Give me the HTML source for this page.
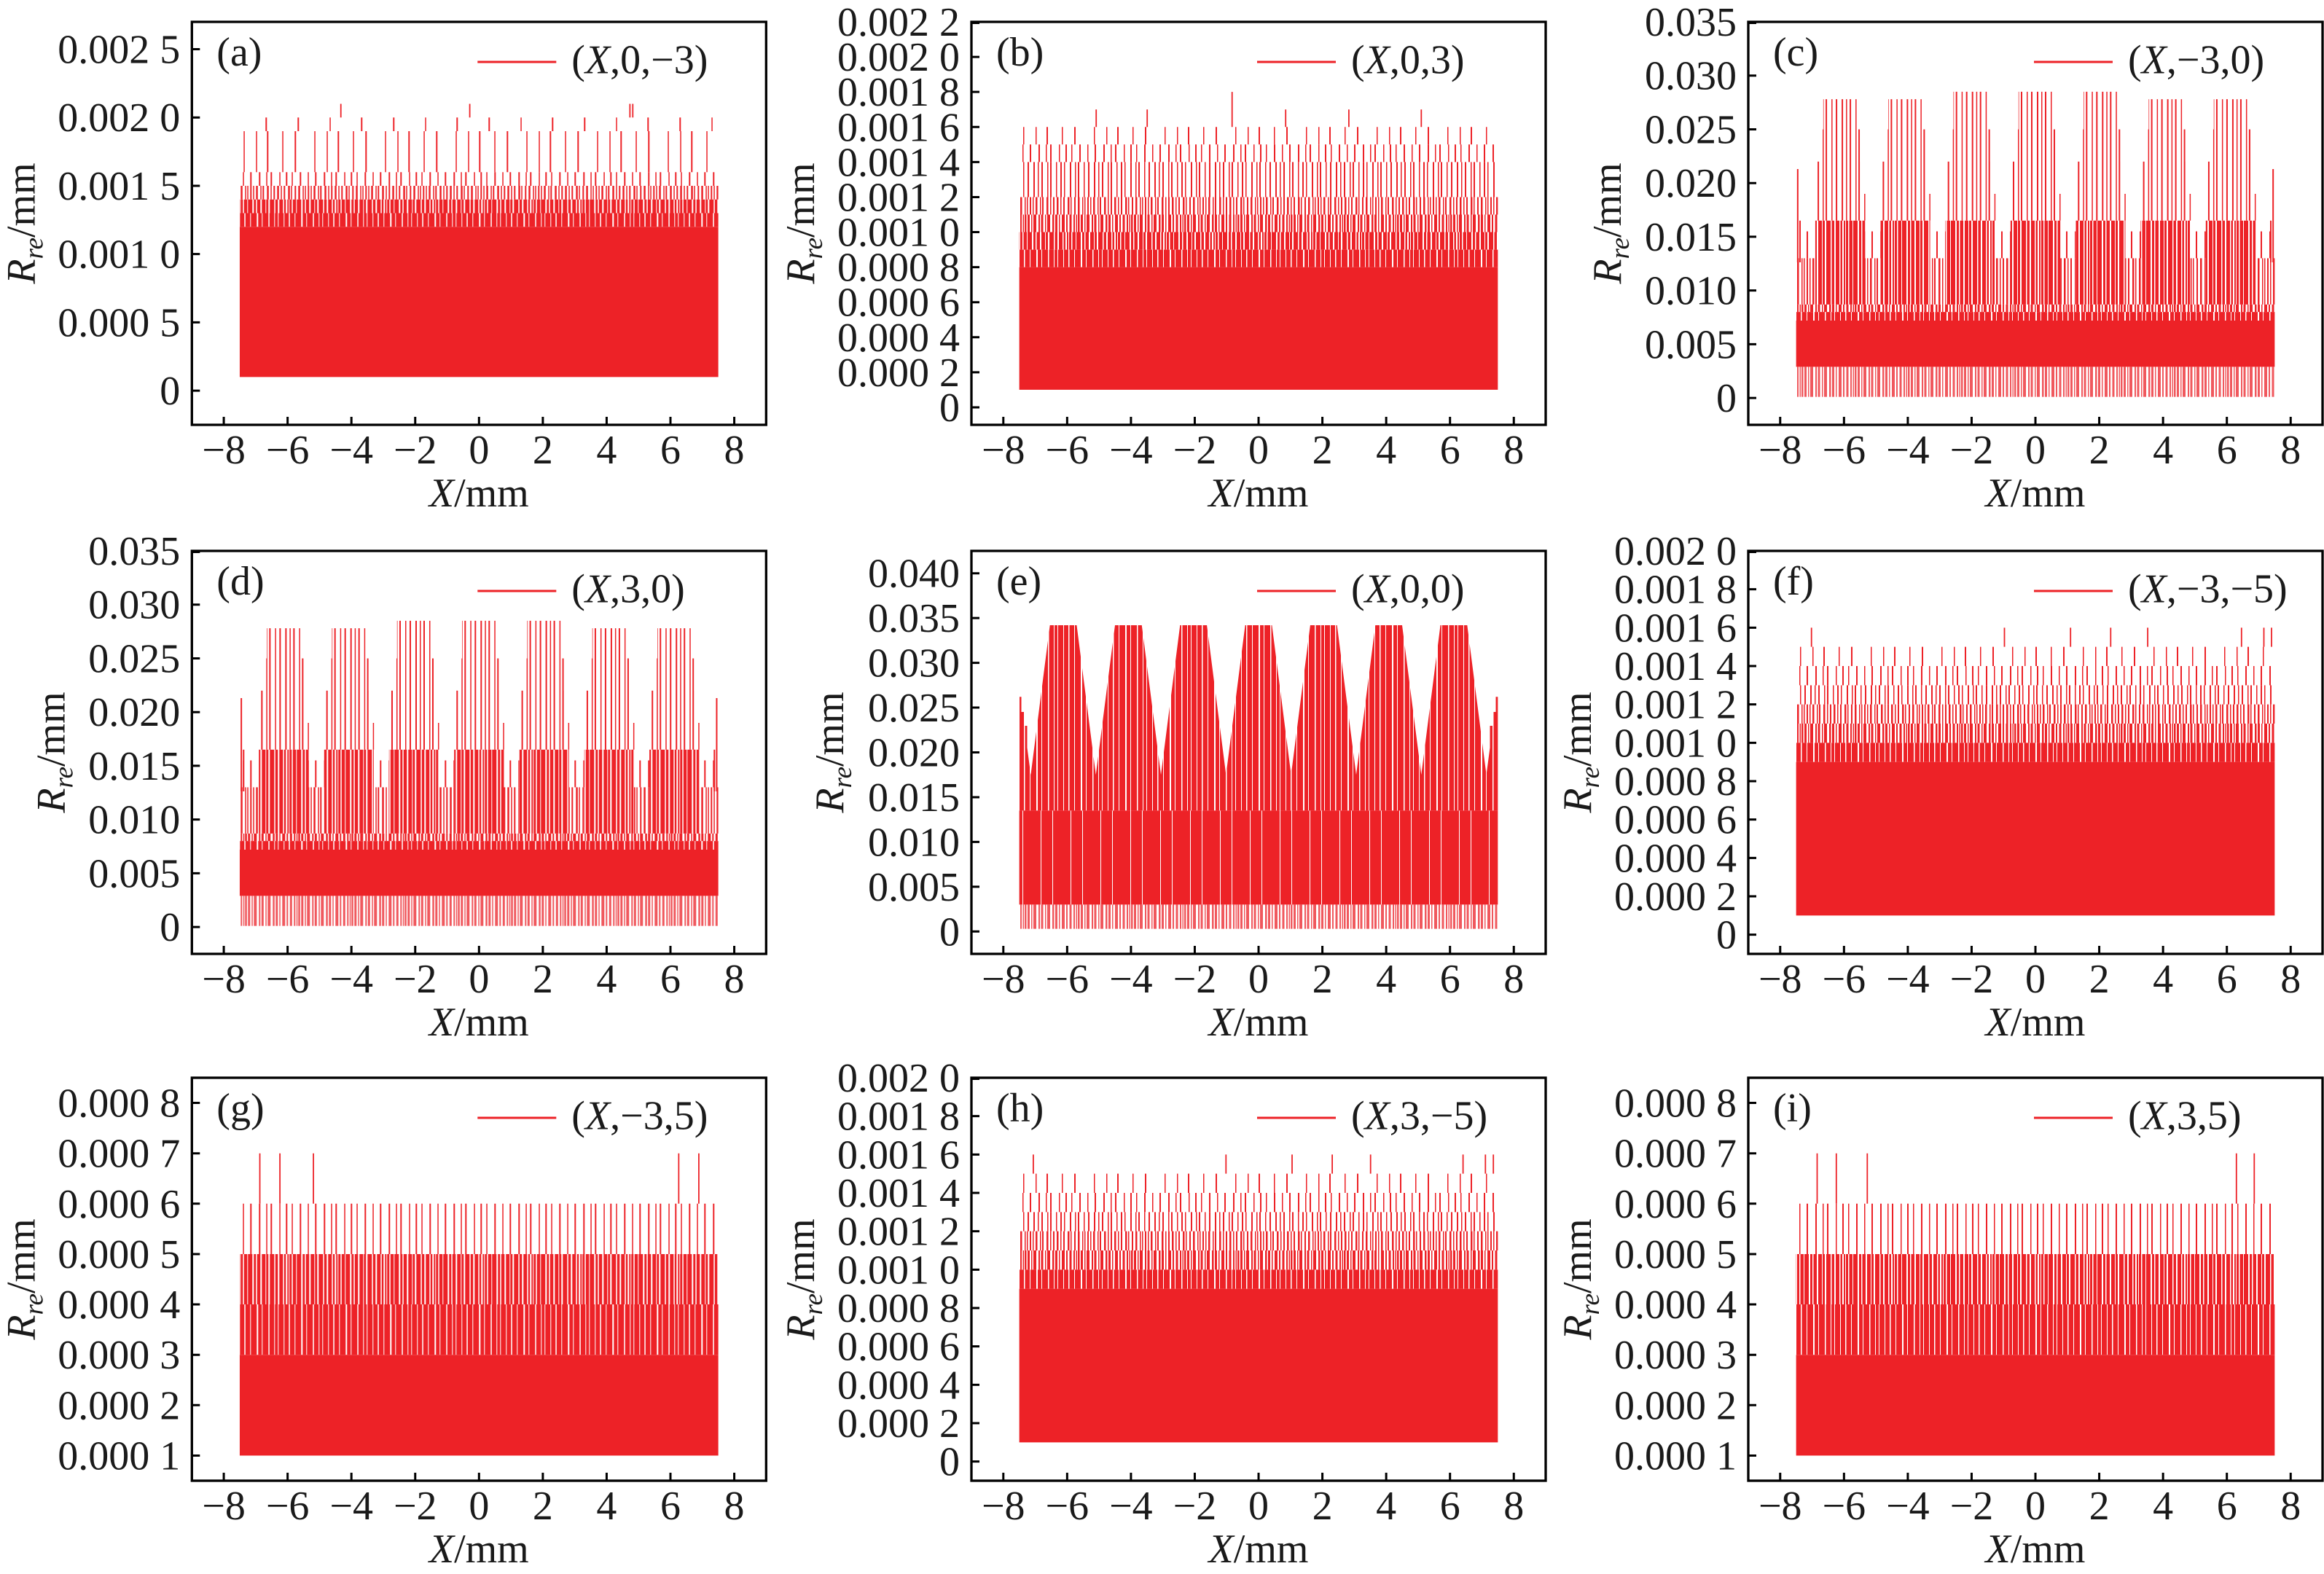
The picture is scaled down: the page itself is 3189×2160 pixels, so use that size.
<!DOCTYPE html>
<html><head><meta charset="utf-8"><title>R_re vs X</title>
<style>
html,body{margin:0;padding:0;background:#fff;}
svg{display:block;}
text{font-family:"Liberation Serif","DejaVu Serif",serif;font-size:56px;fill:#1a1a1a;}
</style></head>
<body>
<svg xmlns="http://www.w3.org/2000/svg" width="3189" height="2160" viewBox="0 0 3189 2160">
<defs>
<pattern id="p95" width="41" height="10" patternUnits="userSpaceOnUse"><path fill="#ed2227" d="M0 0h13v10h-13zM14 0h15v10h-15zM30 0h11v10h-11z"/></pattern>
<pattern id="p90" width="61" height="10" patternUnits="userSpaceOnUse"><path fill="#ed2227" d="M0 0h4v10h-4zM5 0h6v10h-6zM12.5 0h6.5v10h-6.5zM20 0h8v10h-8zM30 0h5v10h-5zM36 0h8v10h-8zM45.5 0h6.5v10h-6.5zM53 0h4v10h-4zM58 0h3v10h-3z"/></pattern>
<pattern id="p75" width="67" height="10" patternUnits="userSpaceOnUse"><path fill="#ed2227" d="M0 0h3v10h-3zM4.5 0h4.5v10h-4.5zM10 0h6v10h-6zM18 0h3v10h-3zM22.5 0h4.5v10h-4.5zM29 0h5v10h-5zM35 0h3v10h-3zM40 0h6v10h-6zM47.5 0h3.5v10h-3.5zM53 0h5v10h-5zM59.5 0h2.5v10h-2.5zM64 0h2v10h-2z"/></pattern>
<pattern id="p60" width="73" height="10" patternUnits="userSpaceOnUse"><path fill="#ed2227" d="M0 0h2.5v10h-2.5zM4 0h3v10h-3zM9 0h1.5v10h-1.5zM12 0h4v10h-4zM19 0h2v10h-2zM22.5 0h3v10h-3zM28 0h1.5v10h-1.5zM31 0h4v10h-4zM38 0h2.5v10h-2.5zM42 0h3v10h-3zM47 0h1.5v10h-1.5zM51 0h4v10h-4zM57 0h2v10h-2zM61.5 0h3v10h-3zM67 0h2v10h-2zM70.5 0h1.5v10h-1.5z"/></pattern>
<pattern id="pl" width="73" height="10" patternUnits="userSpaceOnUse"><path fill="#f0585d" d="M0 0h2.5v10h-2.5zM4 0h3v10h-3zM9 0h1.5v10h-1.5zM12 0h4v10h-4zM19 0h2v10h-2zM22.5 0h3v10h-3zM28 0h1.5v10h-1.5zM31 0h4v10h-4zM38 0h2.5v10h-2.5zM42 0h3v10h-3zM47 0h1.5v10h-1.5zM51 0h4v10h-4zM57 0h2v10h-2zM61.5 0h3v10h-3zM67 0h2v10h-2zM70.5 0h1.5v10h-1.5z"/></pattern>
<pattern id="p45" width="79" height="10" patternUnits="userSpaceOnUse"><path fill="#ed2227" d="M1 0h2v10h-2zM5 0h1.5v10h-1.5zM9 0h2.5v10h-2.5zM15 0h1.5v10h-1.5zM18 0h2v10h-2zM24 0h2.5v10h-2.5zM29 0h1.5v10h-1.5zM33 0h2v10h-2zM38 0h2.5v10h-2.5zM43 0h1.5v10h-1.5zM47 0h2v10h-2zM53 0h2.5v10h-2.5zM57 0h1.5v10h-1.5zM62 0h2v10h-2zM67 0h2.5v10h-2.5zM73 0h1.5v10h-1.5zM76 0h1.5v10h-1.5z"/></pattern>
<pattern id="p30" width="83" height="10" patternUnits="userSpaceOnUse"><path fill="#ed2227" d="M2 0h2v10h-2zM8 0h1.5v10h-1.5zM13 0h2v10h-2zM21 0h1.5v10h-1.5zM25 0h2v10h-2zM33 0h1.5v10h-1.5zM39 0h2v10h-2zM44 0h1.5v10h-1.5zM52 0h2v10h-2zM59 0h1.5v10h-1.5zM63 0h2v10h-2zM71 0h1.5v10h-1.5zM77 0h2v10h-2z"/></pattern>
<pattern id="p20" width="89" height="10" patternUnits="userSpaceOnUse"><path fill="#ed2227" d="M3 0h2v10h-2zM13 0h1.5v10h-1.5zM19 0h2v10h-2zM31 0h1.5v10h-1.5zM40 0h2v10h-2zM48 0h1.5v10h-1.5zM59 0h2v10h-2zM70 0h1.5v10h-1.5zM80 0h2v10h-2z"/></pattern>
<pattern id="p10" width="97" height="10" patternUnits="userSpaceOnUse"><path fill="#ed2227" d="M6 0h2v10h-2zM27 0h1.5v10h-1.5zM44 0h2v10h-2zM71 0h1.5v10h-1.5zM88 0h1.5v10h-1.5z"/></pattern>
<pattern id="p05" width="131" height="10" patternUnits="userSpaceOnUse"><path fill="#ed2227" d="M14 0h2v10h-2zM58 0h1.5v10h-1.5zM101 0h2v10h-2z"/></pattern>
</defs>
<rect width="3189" height="2160" fill="#fff"/>

<!-- ===== (a) ===== -->
<g transform="translate(263.3,30)">
<path fill="#ed2227" d="M65.65 281.19H722.35V487.39H65.65Z"/>
<path fill="url(#p90)" d="M65.65 262.45H722.35V281.19H65.65Z"/>
<path fill="url(#p75)" d="M65.65 243.7H722.35V262.45H65.65Z"/>
<path fill="url(#p45)" d="M65.65 224.95H722.35V243.7H65.65Z"/>
<path fill="url(#p20)" d="M65.65 206.21H722.35V224.95H65.65Z"/>
<path fill="url(#p10)" d="M65.65 149.97H722.35V206.21H65.65Z"/>
<path fill="url(#p05)" d="M65.65 131.22H722.35V149.97H65.65Z"/>
<path stroke="#ed2227" stroke-width="1.8" d="M204.43 131.22V112.48M381.3 131.22V112.48M601.08 131.22V112.48M605.02 131.22V112.48"/>
<rect width="788" height="553" fill="none" stroke="#000" stroke-width="3.3"/>
<path stroke="#000" stroke-width="3" d="M43.78 553V542M131.34 553V542M218.9 553V542M306.46 553V542M394.02 553V542M481.58 553V542M569.14 553V542M656.7 553V542M744.26 553V542M0 506.14H11M0 412.41H11M0 318.68H11M0 224.95H11M0 131.22H11M0 37.49H11"/>
<text y="606" text-anchor="middle"><tspan x="43.78">−8</tspan><tspan x="131.34">−6</tspan><tspan x="218.9">−4</tspan><tspan x="306.46">−2</tspan><tspan x="394.02">0</tspan><tspan x="481.58">2</tspan><tspan x="569.14">4</tspan><tspan x="656.7">6</tspan><tspan x="744.26">8</tspan></text>
<text text-anchor="end"><tspan x="-16" y="525.14">0</tspan><tspan x="-16" y="431.41">0.000 5</tspan><tspan x="-16" y="337.68">0.001 0</tspan><tspan x="-16" y="243.95">0.001 5</tspan><tspan x="-16" y="150.22">0.002 0</tspan><tspan x="-16" y="56.49">0.002 5</tspan></text>
<text x="394" y="665" text-anchor="middle"><tspan font-style="italic">X</tspan>/mm</text>
<text transform="translate(-216 276.5) rotate(-90)" text-anchor="middle"><tspan font-style="italic">R</tspan><tspan font-style="italic" font-size="37" dy="11">re</tspan><tspan dy="-11">/mm</tspan></text>
<text x="34" y="60">(a)</text>
<path d="M392 55H500" stroke="#ed2227" stroke-width="3"/>
<text x="521" y="70.5">(<tspan font-style="italic">X</tspan>,0,−3)</text>
</g>

<!-- ===== (b) ===== -->
<g transform="translate(1333,30)">
<path fill="#ed2227" d="M65.65 336.61H722.35V504.92H65.65Z"/>
<path fill="url(#p90)" d="M65.65 312.57H722.35V336.61H65.65Z"/>
<path fill="url(#p75)" d="M65.65 288.53H722.35V312.57H65.65Z"/>
<path fill="url(#p60)" d="M65.65 264.48H722.35V288.53H65.65Z"/>
<path fill="url(#p45)" d="M65.65 240.44H722.35V264.48H65.65Z"/>
<path fill="url(#p30)" d="M65.65 192.35H722.35V240.44H65.65Z"/>
<path fill="url(#p20)" d="M65.65 168.31H722.35V192.35H65.65Z"/>
<path fill="url(#p10)" d="M65.65 144.26H722.35V168.31H65.65Z"/>
<path stroke="#ed2227" stroke-width="1.8" d="M171.2 144.26V120.22M241.2 144.26V120.22M431.2 144.26V120.22M517.9 144.26V120.22M617.3 144.26V120.22M357.7 144.26V96.18"/>
<rect width="788" height="553" fill="none" stroke="#000" stroke-width="3.3"/>
<path stroke="#000" stroke-width="3" d="M43.78 553V542M131.34 553V542M218.9 553V542M306.46 553V542M394.02 553V542M481.58 553V542M569.14 553V542M656.7 553V542M744.26 553V542M0 528.96H11M0 480.87H11M0 432.79H11M0 384.7H11M0 336.61H11M0 288.53H11M0 240.44H11M0 192.35H11M0 144.27H11M0 96.18H11M0 48.09H11M0 1.5H11"/>
<text y="606" text-anchor="middle"><tspan x="43.78">−8</tspan><tspan x="131.34">−6</tspan><tspan x="218.9">−4</tspan><tspan x="306.46">−2</tspan><tspan x="394.02">0</tspan><tspan x="481.58">2</tspan><tspan x="569.14">4</tspan><tspan x="656.7">6</tspan><tspan x="744.26">8</tspan></text>
<text text-anchor="end"><tspan x="-16" y="547.96">0</tspan><tspan x="-16" y="499.87">0.000 2</tspan><tspan x="-16" y="451.79">0.000 4</tspan><tspan x="-16" y="403.7">0.000 6</tspan><tspan x="-16" y="355.61">0.000 8</tspan><tspan x="-16" y="307.53">0.001 0</tspan><tspan x="-16" y="259.44">0.001 2</tspan><tspan x="-16" y="211.35">0.001 4</tspan><tspan x="-16" y="163.27">0.001 6</tspan><tspan x="-16" y="115.18">0.001 8</tspan><tspan x="-16" y="67.09">0.002 0</tspan><tspan x="-16" y="19">0.002 2</tspan></text>
<text x="394" y="665" text-anchor="middle"><tspan font-style="italic">X</tspan>/mm</text>
<text transform="translate(-216 276.5) rotate(-90)" text-anchor="middle"><tspan font-style="italic">R</tspan><tspan font-style="italic" font-size="37" dy="11">re</tspan><tspan dy="-11">/mm</tspan></text>
<text x="34" y="60">(b)</text>
<path d="M392 55H500" stroke="#ed2227" stroke-width="3"/>
<text x="521" y="70.5">(<tspan font-style="italic">X</tspan>,0,3)</text>
</g>

<!-- ===== (c) ===== -->
<g transform="translate(2399,30)">
<path fill="url(#pl)" d="M65.65 473.36H722.35V514.66H65.65Z"/>
<path fill="#ed2227" d="M65.65 409.95H722.35V473.36H65.65Z"/>
<path fill="url(#p90)" d="M65.65 398.16H722.35V409.95H65.65Z"/>
<path fill="url(#p60)" d="M65.65 387.83H722.35V398.16H65.65Z"/>
<path fill="url(#p75)" d="M91.92 272.81H160.22V387.83H91.92ZM181.23 272.81H249.53V387.83H181.23ZM270.54 272.81H338.84V387.83H270.54ZM359.85 272.81H428.15V387.83H359.85ZM449.16 272.81H517.46V387.83H449.16ZM538.47 272.81H606.77V387.83H538.47ZM627.78 272.81H696.08V387.83H627.78Z"/>
<path fill="url(#p45)" d="M65.65 324.42H91.92V387.83H65.65ZM160.22 324.42H181.23V387.83H160.22ZM249.53 324.42H270.54V387.83H249.53ZM338.84 324.42H359.85V387.83H338.84ZM428.15 324.42H449.16V387.83H428.15ZM517.46 324.42H538.47V387.83H517.46ZM606.77 324.42H627.78V387.83H606.77ZM696.08 324.42H722.35V387.83H696.08Z"/>
<path fill="url(#p20)" d="M65.65 287.56H91.92V324.42H65.65ZM160.22 287.56H181.23V324.42H160.22ZM249.53 287.56H270.54V324.42H249.53ZM338.84 287.56H359.85V324.42H338.84ZM428.15 287.56H449.16V324.42H428.15ZM517.46 287.56H538.47V324.42H517.46ZM606.77 287.56H627.78V324.42H606.77ZM696.08 287.56H722.35V324.42H696.08Z"/>
<path fill="url(#p30)" transform="translate(126.07 0)" d="M-36.78 272.81V235.94H-31.96V191.7H-27.14V147.46H-23.2V106.17H23.2V147.46H27.14V191.7H31.96V235.94H36.78V272.81Z"/>
<path fill="url(#p30)" transform="translate(215.38 0)" d="M-36.78 272.81V235.94H-31.96V191.7H-27.14V147.46H-23.2V106.17H23.2V147.46H27.14V191.7H31.96V235.94H36.78V272.81Z"/>
<path fill="url(#p30)" transform="translate(304.69 0)" d="M-36.78 272.81V235.94H-31.96V191.7H-27.14V147.46H-23.2V95.85H23.2V147.46H27.14V191.7H31.96V235.94H36.78V272.81Z"/>
<path fill="url(#p30)" transform="translate(394 0)" d="M-36.78 272.81V235.94H-31.96V191.7H-27.14V147.46H-23.2V95.85H23.2V147.46H27.14V191.7H31.96V235.94H36.78V272.81Z"/>
<path fill="url(#p30)" transform="translate(483.31 0)" d="M-36.78 272.81V235.94H-31.96V191.7H-27.14V147.46H-23.2V95.85H23.2V147.46H27.14V191.7H31.96V235.94H36.78V272.81Z"/>
<path fill="url(#p30)" transform="translate(572.62 0)" d="M-36.78 272.81V235.94H-31.96V191.7H-27.14V147.46H-23.2V106.17H23.2V147.46H27.14V191.7H31.96V235.94H36.78V272.81Z"/>
<path fill="url(#p30)" transform="translate(661.93 0)" d="M-36.78 272.81V235.94H-31.96V191.7H-27.14V147.46H-23.2V106.17H23.2V147.46H27.14V191.7H31.96V235.94H36.78V272.81Z"/>
<path stroke="#ed2227" stroke-width="2" d="M67.84 330V202.03M720.16 330V202.03M71 330V272.81M717 330V272.81"/>
<rect width="788" height="553" fill="none" stroke="#000" stroke-width="3.3"/>
<path stroke="#000" stroke-width="3" d="M43.78 553V542M131.34 553V542M218.9 553V542M306.46 553V542M394.02 553V542M481.58 553V542M569.14 553V542M656.7 553V542M744.26 553V542M0 516.13H11M0 442.4H11M0 368.67H11M0 294.93H11M0 221.2H11M0 147.47H11M0 73.73H11M0 1.5H11"/>
<text y="606" text-anchor="middle"><tspan x="43.78">−8</tspan><tspan x="131.34">−6</tspan><tspan x="218.9">−4</tspan><tspan x="306.46">−2</tspan><tspan x="394.02">0</tspan><tspan x="481.58">2</tspan><tspan x="569.14">4</tspan><tspan x="656.7">6</tspan><tspan x="744.26">8</tspan></text>
<text text-anchor="end"><tspan x="-16" y="535.13">0</tspan><tspan x="-16" y="461.4">0.005</tspan><tspan x="-16" y="387.67">0.010</tspan><tspan x="-16" y="313.93">0.015</tspan><tspan x="-16" y="240.2">0.020</tspan><tspan x="-16" y="166.47">0.025</tspan><tspan x="-16" y="92.73">0.030</tspan><tspan x="-16" y="19">0.035</tspan></text>
<text x="394" y="665" text-anchor="middle"><tspan font-style="italic">X</tspan>/mm</text>
<text transform="translate(-175 276.5) rotate(-90)" text-anchor="middle"><tspan font-style="italic">R</tspan><tspan font-style="italic" font-size="37" dy="11">re</tspan><tspan dy="-11">/mm</tspan></text>
<text x="34" y="60">(c)</text>
<path d="M392 55H500" stroke="#ed2227" stroke-width="3"/>
<text x="521" y="70.5">(<tspan font-style="italic">X</tspan>,−3,0)</text>
</g>

<!-- ===== (d) ===== -->
<g transform="translate(263.3,756)">
<path fill="url(#pl)" d="M65.65 473.36H722.35V514.66H65.65Z"/>
<path fill="#ed2227" d="M65.65 409.95H722.35V473.36H65.65Z"/>
<path fill="url(#p90)" d="M65.65 398.16H722.35V409.95H65.65Z"/>
<path fill="url(#p60)" d="M65.65 387.83H722.35V398.16H65.65Z"/>
<path fill="url(#p75)" d="M91.92 272.81H160.22V387.83H91.92ZM181.23 272.81H249.53V387.83H181.23ZM270.54 272.81H338.84V387.83H270.54ZM359.85 272.81H428.15V387.83H359.85ZM449.16 272.81H517.46V387.83H449.16ZM538.47 272.81H606.77V387.83H538.47ZM627.78 272.81H696.08V387.83H627.78Z"/>
<path fill="url(#p45)" d="M65.65 324.42H91.92V387.83H65.65ZM160.22 324.42H181.23V387.83H160.22ZM249.53 324.42H270.54V387.83H249.53ZM338.84 324.42H359.85V387.83H338.84ZM428.15 324.42H449.16V387.83H428.15ZM517.46 324.42H538.47V387.83H517.46ZM606.77 324.42H627.78V387.83H606.77ZM696.08 324.42H722.35V387.83H696.08Z"/>
<path fill="url(#p20)" d="M65.65 287.56H91.92V324.42H65.65ZM160.22 287.56H181.23V324.42H160.22ZM249.53 287.56H270.54V324.42H249.53ZM338.84 287.56H359.85V324.42H338.84ZM428.15 287.56H449.16V324.42H428.15ZM517.46 287.56H538.47V324.42H517.46ZM606.77 287.56H627.78V324.42H606.77ZM696.08 287.56H722.35V324.42H696.08Z"/>
<path fill="url(#p30)" transform="translate(126.07 0)" d="M-36.78 272.81V235.94H-31.96V191.7H-27.14V147.46H-23.2V106.17H23.2V147.46H27.14V191.7H31.96V235.94H36.78V272.81Z"/>
<path fill="url(#p30)" transform="translate(215.38 0)" d="M-36.78 272.81V235.94H-31.96V191.7H-27.14V147.46H-23.2V106.17H23.2V147.46H27.14V191.7H31.96V235.94H36.78V272.81Z"/>
<path fill="url(#p30)" transform="translate(304.69 0)" d="M-36.78 272.81V235.94H-31.96V191.7H-27.14V147.46H-23.2V95.85H23.2V147.46H27.14V191.7H31.96V235.94H36.78V272.81Z"/>
<path fill="url(#p30)" transform="translate(394 0)" d="M-36.78 272.81V235.94H-31.96V191.7H-27.14V147.46H-23.2V95.85H23.2V147.46H27.14V191.7H31.96V235.94H36.78V272.81Z"/>
<path fill="url(#p30)" transform="translate(483.31 0)" d="M-36.78 272.81V235.94H-31.96V191.7H-27.14V147.46H-23.2V95.85H23.2V147.46H27.14V191.7H31.96V235.94H36.78V272.81Z"/>
<path fill="url(#p30)" transform="translate(572.62 0)" d="M-36.78 272.81V235.94H-31.96V191.7H-27.14V147.46H-23.2V106.17H23.2V147.46H27.14V191.7H31.96V235.94H36.78V272.81Z"/>
<path fill="url(#p30)" transform="translate(661.93 0)" d="M-36.78 272.81V235.94H-31.96V191.7H-27.14V147.46H-23.2V106.17H23.2V147.46H27.14V191.7H31.96V235.94H36.78V272.81Z"/>
<path stroke="#ed2227" stroke-width="2" d="M67.84 330V202.03M720.16 330V202.03M71 330V272.81M717 330V272.81"/>
<rect width="788" height="553" fill="none" stroke="#000" stroke-width="3.3"/>
<path stroke="#000" stroke-width="3" d="M43.78 553V542M131.34 553V542M218.9 553V542M306.46 553V542M394.02 553V542M481.58 553V542M569.14 553V542M656.7 553V542M744.26 553V542M0 516.13H11M0 442.4H11M0 368.67H11M0 294.93H11M0 221.2H11M0 147.47H11M0 73.73H11M0 1.5H11"/>
<text y="606" text-anchor="middle"><tspan x="43.78">−8</tspan><tspan x="131.34">−6</tspan><tspan x="218.9">−4</tspan><tspan x="306.46">−2</tspan><tspan x="394.02">0</tspan><tspan x="481.58">2</tspan><tspan x="569.14">4</tspan><tspan x="656.7">6</tspan><tspan x="744.26">8</tspan></text>
<text text-anchor="end"><tspan x="-16" y="535.13">0</tspan><tspan x="-16" y="461.4">0.005</tspan><tspan x="-16" y="387.67">0.010</tspan><tspan x="-16" y="313.93">0.015</tspan><tspan x="-16" y="240.2">0.020</tspan><tspan x="-16" y="166.47">0.025</tspan><tspan x="-16" y="92.73">0.030</tspan><tspan x="-16" y="19">0.035</tspan></text>
<text x="394" y="665" text-anchor="middle"><tspan font-style="italic">X</tspan>/mm</text>
<text transform="translate(-175 276.5) rotate(-90)" text-anchor="middle"><tspan font-style="italic">R</tspan><tspan font-style="italic" font-size="37" dy="11">re</tspan><tspan dy="-11">/mm</tspan></text>
<text x="34" y="60">(d)</text>
<path d="M392 55H500" stroke="#ed2227" stroke-width="3"/>
<text x="521" y="70.5">(<tspan font-style="italic">X</tspan>,3,0)</text>
</g>

<!-- ===== (e) ===== -->
<g transform="translate(1333,756)">
<path fill="url(#pl)" d="M65.65 485.41H722.35V518.59H65.65Z"/>
<path fill="url(#p95)" d="M65.65 356.38H722.35V485.41H65.65Z"/>
<path fill="url(#p90)" d="M65.65 356.38V200.31H68.5V221H72.5V240H76.5V270L81.41 307.24L107.68 102H144.46L170.73 307.24L196.99 102H233.77L260.04 307.24L286.3 102H323.08L349.35 307.24L375.61 102H412.39L438.66 307.24L464.92 102H501.7L527.97 307.24L554.23 102H591.01L617.28 307.24L643.54 102H680.32L706.59 307.24L711.5 270V240H715.5V221H719.5V200.31H722.35V356.38Z"/>
<rect width="788" height="553" fill="none" stroke="#000" stroke-width="3.3"/>
<path stroke="#000" stroke-width="3" d="M43.78 553V542M131.34 553V542M218.9 553V542M306.46 553V542M394.02 553V542M481.58 553V542M569.14 553V542M656.7 553V542M744.26 553V542M0 522.28H11M0 460.84H11M0 399.39H11M0 337.95H11M0 276.5H11M0 215.06H11M0 153.61H11M0 92.17H11M0 30.72H11"/>
<text y="606" text-anchor="middle"><tspan x="43.78">−8</tspan><tspan x="131.34">−6</tspan><tspan x="218.9">−4</tspan><tspan x="306.46">−2</tspan><tspan x="394.02">0</tspan><tspan x="481.58">2</tspan><tspan x="569.14">4</tspan><tspan x="656.7">6</tspan><tspan x="744.26">8</tspan></text>
<text text-anchor="end"><tspan x="-16" y="541.28">0</tspan><tspan x="-16" y="479.84">0.005</tspan><tspan x="-16" y="418.39">0.010</tspan><tspan x="-16" y="356.95">0.015</tspan><tspan x="-16" y="295.5">0.020</tspan><tspan x="-16" y="234.06">0.025</tspan><tspan x="-16" y="172.61">0.030</tspan><tspan x="-16" y="111.17">0.035</tspan><tspan x="-16" y="49.72">0.040</tspan></text>
<text x="394" y="665" text-anchor="middle"><tspan font-style="italic">X</tspan>/mm</text>
<text transform="translate(-176 276.5) rotate(-90)" text-anchor="middle"><tspan font-style="italic">R</tspan><tspan font-style="italic" font-size="37" dy="11">re</tspan><tspan dy="-11">/mm</tspan></text>
<text x="34" y="60">(e)</text>
<path d="M392 55H500" stroke="#ed2227" stroke-width="3"/>
<text x="521" y="70.5">(<tspan font-style="italic">X</tspan>,0,0)</text>
</g>

<!-- ===== (f) ===== -->
<g transform="translate(2399,756)">
<path fill="#ed2227" d="M65.65 289.67H722.35V500.33H65.65Z"/>
<path fill="url(#p90)" d="M65.65 263.34H722.35V289.67H65.65Z"/>
<path fill="url(#p60)" d="M65.65 237H722.35V263.34H65.65Z"/>
<path fill="url(#p45)" d="M65.65 210.67H722.35V237H65.65Z"/>
<path fill="url(#p30)" d="M65.65 184.34H722.35V210.67H65.65Z"/>
<path fill="url(#p20)" d="M65.65 158H722.35V184.34H65.65Z"/>
<path fill="url(#p10)" d="M65.65 131.67H722.35V158H65.65Z"/>
<path stroke="#ed2227" stroke-width="1.8" d="M86.7 131.67V105.34M351.5 131.67V105.34M442.2 131.67V105.34M497.3 131.67V105.34M548.1 131.67V105.34M676.8 131.67V105.34M707.5 131.67V105.34M718 131.67V105.34"/>
<rect width="788" height="553" fill="none" stroke="#000" stroke-width="3.3"/>
<path stroke="#000" stroke-width="3" d="M43.78 553V542M131.34 553V542M218.9 553V542M306.46 553V542M394.02 553V542M481.58 553V542M569.14 553V542M656.7 553V542M744.26 553V542M0 526.67H11M0 474H11M0 421.33H11M0 368.67H11M0 316H11M0 263.33H11M0 210.67H11M0 158H11M0 105.33H11M0 52.67H11M0 1.5H11"/>
<text y="606" text-anchor="middle"><tspan x="43.78">−8</tspan><tspan x="131.34">−6</tspan><tspan x="218.9">−4</tspan><tspan x="306.46">−2</tspan><tspan x="394.02">0</tspan><tspan x="481.58">2</tspan><tspan x="569.14">4</tspan><tspan x="656.7">6</tspan><tspan x="744.26">8</tspan></text>
<text text-anchor="end"><tspan x="-16" y="545.67">0</tspan><tspan x="-16" y="493">0.000 2</tspan><tspan x="-16" y="440.33">0.000 4</tspan><tspan x="-16" y="387.67">0.000 6</tspan><tspan x="-16" y="335">0.000 8</tspan><tspan x="-16" y="282.33">0.001 0</tspan><tspan x="-16" y="229.67">0.001 2</tspan><tspan x="-16" y="177">0.001 4</tspan><tspan x="-16" y="124.33">0.001 6</tspan><tspan x="-16" y="71.67">0.001 8</tspan><tspan x="-16" y="19">0.002 0</tspan></text>
<text x="394" y="665" text-anchor="middle"><tspan font-style="italic">X</tspan>/mm</text>
<text transform="translate(-216 276.5) rotate(-90)" text-anchor="middle"><tspan font-style="italic">R</tspan><tspan font-style="italic" font-size="37" dy="11">re</tspan><tspan dy="-11">/mm</tspan></text>
<text x="34" y="60">(f)</text>
<path d="M392 55H500" stroke="#ed2227" stroke-width="3"/>
<text x="521" y="70.5">(<tspan font-style="italic">X</tspan>,−3,−5)</text>
</g>

<!-- ===== (g) ===== -->
<g transform="translate(263.3,1479)">
<path fill="#ed2227" d="M65.65 380.19H722.35V518.44H65.65Z"/>
<path fill="url(#p90)" d="M65.65 311.06H722.35V380.19H65.65Z"/>
<path fill="url(#p75)" d="M65.65 241.94H722.35V311.06H65.65Z"/>
<path fill="url(#p20)" d="M65.65 172.81H722.35V241.94H65.65Z"/>
<path stroke="#ed2227" stroke-width="1.8" d="M93.24 172.81V103.69M120.81 172.81V103.69M166.78 172.81V103.69M668.06 172.81V103.69M695.64 172.81V103.69"/>
<rect width="788" height="553" fill="none" stroke="#000" stroke-width="3.3"/>
<path stroke="#000" stroke-width="3" d="M43.78 553V542M131.34 553V542M218.9 553V542M306.46 553V542M394.02 553V542M481.58 553V542M569.14 553V542M656.7 553V542M744.26 553V542M0 518.44H11M0 449.31H11M0 380.19H11M0 311.06H11M0 241.94H11M0 172.81H11M0 103.69H11M0 34.56H11"/>
<text y="606" text-anchor="middle"><tspan x="43.78">−8</tspan><tspan x="131.34">−6</tspan><tspan x="218.9">−4</tspan><tspan x="306.46">−2</tspan><tspan x="394.02">0</tspan><tspan x="481.58">2</tspan><tspan x="569.14">4</tspan><tspan x="656.7">6</tspan><tspan x="744.26">8</tspan></text>
<text text-anchor="end"><tspan x="-16" y="537.44">0.000 1</tspan><tspan x="-16" y="468.31">0.000 2</tspan><tspan x="-16" y="399.19">0.000 3</tspan><tspan x="-16" y="330.06">0.000 4</tspan><tspan x="-16" y="260.94">0.000 5</tspan><tspan x="-16" y="191.81">0.000 6</tspan><tspan x="-16" y="122.69">0.000 7</tspan><tspan x="-16" y="53.56">0.000 8</tspan></text>
<text x="394" y="665" text-anchor="middle"><tspan font-style="italic">X</tspan>/mm</text>
<text transform="translate(-216 276.5) rotate(-90)" text-anchor="middle"><tspan font-style="italic">R</tspan><tspan font-style="italic" font-size="37" dy="11">re</tspan><tspan dy="-11">/mm</tspan></text>
<text x="34" y="60">(g)</text>
<path d="M392 55H500" stroke="#ed2227" stroke-width="3"/>
<text x="521" y="70.5">(<tspan font-style="italic">X</tspan>,−3,5)</text>
</g>

<!-- ===== (h) ===== -->
<g transform="translate(1333,1479)">
<path fill="#ed2227" d="M65.65 289.67H722.35V500.33H65.65Z"/>
<path fill="url(#p90)" d="M65.65 263.34H722.35V289.67H65.65Z"/>
<path fill="url(#p60)" d="M65.65 237H722.35V263.34H65.65Z"/>
<path fill="url(#p45)" d="M65.65 210.67H722.35V237H65.65Z"/>
<path fill="url(#p30)" d="M65.65 184.34H722.35V210.67H65.65Z"/>
<path fill="url(#p20)" d="M65.65 158H722.35V184.34H65.65Z"/>
<path fill="url(#p10)" d="M65.65 131.67H722.35V158H65.65Z"/>
<path stroke="#ed2227" stroke-width="1.8" d="M84.9 131.67V105.34M349.3 131.67V105.34M440 131.67V105.34M495.1 131.67V105.34M547.7 131.67V105.34M674.6 131.67V105.34M705.3 131.67V105.34M716.2 131.67V105.34"/>
<rect width="788" height="553" fill="none" stroke="#000" stroke-width="3.3"/>
<path stroke="#000" stroke-width="3" d="M43.78 553V542M131.34 553V542M218.9 553V542M306.46 553V542M394.02 553V542M481.58 553V542M569.14 553V542M656.7 553V542M744.26 553V542M0 526.67H11M0 474H11M0 421.33H11M0 368.67H11M0 316H11M0 263.33H11M0 210.67H11M0 158H11M0 105.33H11M0 52.67H11M0 1.5H11"/>
<text y="606" text-anchor="middle"><tspan x="43.78">−8</tspan><tspan x="131.34">−6</tspan><tspan x="218.9">−4</tspan><tspan x="306.46">−2</tspan><tspan x="394.02">0</tspan><tspan x="481.58">2</tspan><tspan x="569.14">4</tspan><tspan x="656.7">6</tspan><tspan x="744.26">8</tspan></text>
<text text-anchor="end"><tspan x="-16" y="545.67">0</tspan><tspan x="-16" y="493">0.000 2</tspan><tspan x="-16" y="440.33">0.000 4</tspan><tspan x="-16" y="387.67">0.000 6</tspan><tspan x="-16" y="335">0.000 8</tspan><tspan x="-16" y="282.33">0.001 0</tspan><tspan x="-16" y="229.67">0.001 2</tspan><tspan x="-16" y="177">0.001 4</tspan><tspan x="-16" y="124.33">0.001 6</tspan><tspan x="-16" y="71.67">0.001 8</tspan><tspan x="-16" y="19">0.002 0</tspan></text>
<text x="394" y="665" text-anchor="middle"><tspan font-style="italic">X</tspan>/mm</text>
<text transform="translate(-216 276.5) rotate(-90)" text-anchor="middle"><tspan font-style="italic">R</tspan><tspan font-style="italic" font-size="37" dy="11">re</tspan><tspan dy="-11">/mm</tspan></text>
<text x="34" y="60">(h)</text>
<path d="M392 55H500" stroke="#ed2227" stroke-width="3"/>
<text x="521" y="70.5">(<tspan font-style="italic">X</tspan>,3,−5)</text>
</g>

<!-- ===== (i) ===== -->
<g transform="translate(2399,1479)">
<path fill="#ed2227" d="M65.65 380.19H722.35V518.44H65.65Z"/>
<path fill="url(#p90)" d="M65.65 311.06H722.35V380.19H65.65Z"/>
<path fill="url(#p75)" d="M65.65 241.94H722.35V311.06H65.65Z"/>
<path fill="url(#p20)" d="M65.65 172.81H722.35V241.94H65.65Z"/>
<path stroke="#ed2227" stroke-width="1.8" d="M94.5 172.81V103.69M120.8 172.81V103.69M163.3 172.81V103.69M669.8 172.81V103.69M694.3 172.81V103.69"/>
<rect width="788" height="553" fill="none" stroke="#000" stroke-width="3.3"/>
<path stroke="#000" stroke-width="3" d="M43.78 553V542M131.34 553V542M218.9 553V542M306.46 553V542M394.02 553V542M481.58 553V542M569.14 553V542M656.7 553V542M744.26 553V542M0 518.44H11M0 449.31H11M0 380.19H11M0 311.06H11M0 241.94H11M0 172.81H11M0 103.69H11M0 34.56H11"/>
<text y="606" text-anchor="middle"><tspan x="43.78">−8</tspan><tspan x="131.34">−6</tspan><tspan x="218.9">−4</tspan><tspan x="306.46">−2</tspan><tspan x="394.02">0</tspan><tspan x="481.58">2</tspan><tspan x="569.14">4</tspan><tspan x="656.7">6</tspan><tspan x="744.26">8</tspan></text>
<text text-anchor="end"><tspan x="-16" y="537.44">0.000 1</tspan><tspan x="-16" y="468.31">0.000 2</tspan><tspan x="-16" y="399.19">0.000 3</tspan><tspan x="-16" y="330.06">0.000 4</tspan><tspan x="-16" y="260.94">0.000 5</tspan><tspan x="-16" y="191.81">0.000 6</tspan><tspan x="-16" y="122.69">0.000 7</tspan><tspan x="-16" y="53.56">0.000 8</tspan></text>
<text x="394" y="665" text-anchor="middle"><tspan font-style="italic">X</tspan>/mm</text>
<text transform="translate(-216 276.5) rotate(-90)" text-anchor="middle"><tspan font-style="italic">R</tspan><tspan font-style="italic" font-size="37" dy="11">re</tspan><tspan dy="-11">/mm</tspan></text>
<text x="34" y="60">(i)</text>
<path d="M392 55H500" stroke="#ed2227" stroke-width="3"/>
<text x="521" y="70.5">(<tspan font-style="italic">X</tspan>,3,5)</text>
</g>
</svg>
</body></html>
